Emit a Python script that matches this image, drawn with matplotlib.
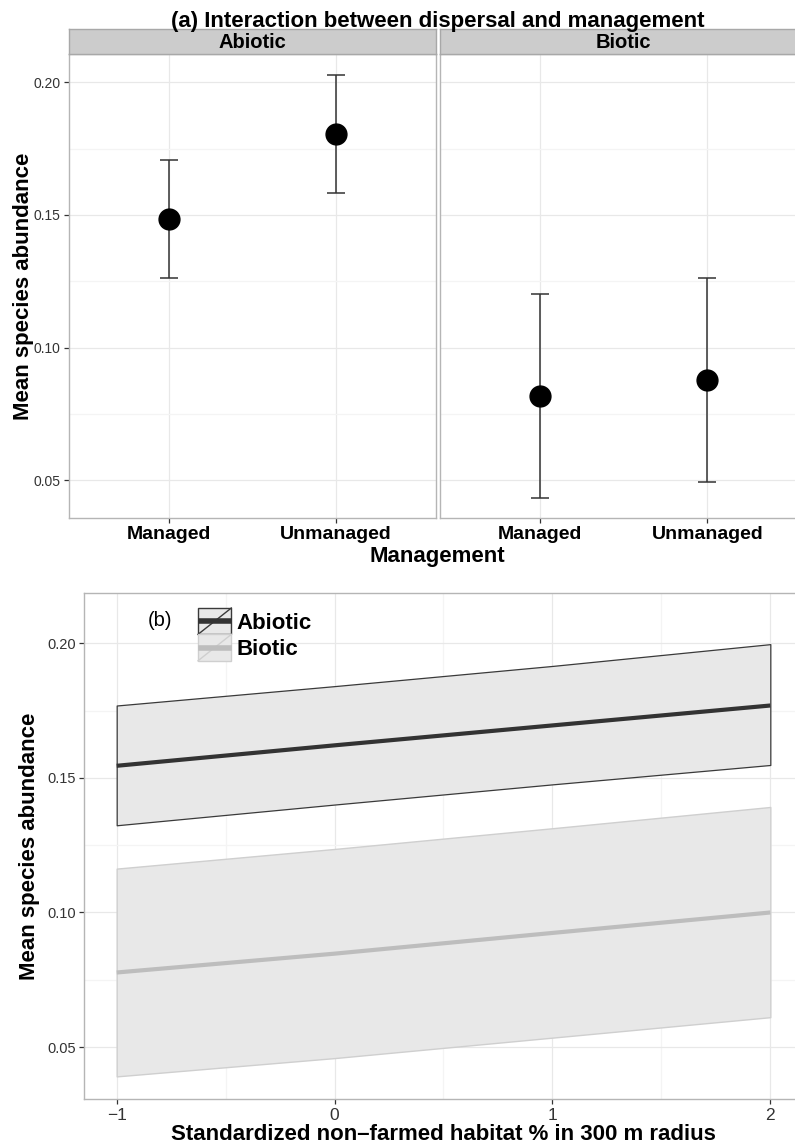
import matplotlib
matplotlib.use("Agg")
import matplotlib.pyplot as plt
from matplotlib.patches import Rectangle
from matplotlib.lines import Line2D
from matplotlib.legend_handler import HandlerBase
from matplotlib.ticker import FixedLocator

plt.rcParams['font.family'] = ['Liberation Sans', 'DejaVu Sans']

# ---- data: panel (a) ----
management = ["Managed", "Unmanaged"]
dispersal = ["Abiotic", "Biotic"]
abiotic_mean = [0.1483, 0.1804]
abiotic_low = [0.1263, 0.1581]
abiotic_high = [0.1707, 0.2028]
biotic_mean = [0.0819, 0.0878]
biotic_low = [0.0432, 0.0491]
biotic_high = [0.1201, 0.1262]

# ---- data: panel (b) ----
habitat_x = [-1, 0, 1, 2]
abiotic_fit = [0.1545, 0.1621, 0.1695, 0.1769]
abiotic_lwr = [0.1324, 0.1401, 0.1476, 0.1548]
abiotic_upr = [0.1769, 0.1841, 0.1916, 0.1997]
biotic_fit = [0.0777, 0.0847, 0.0924, 0.1000]
biotic_lwr = [0.0391, 0.0459, 0.0535, 0.0611]
biotic_upr = [0.1163, 0.1236, 0.1313, 0.1392]

W, H = 795, 1146
fig = plt.figure(figsize=(W / 100, H / 100), dpi=100)


def px_axes(x0, y0, x1, y1):
    return fig.add_axes([x0 / W, 1 - y1 / H, (x1 - x0) / W, (y1 - y0) / H])


BORDER = '#b5b5b5'
GRID_MAJ = '#e8e8e8'
GRID_MIN = '#f4f4f4'
TICKC = '#333333'


def style_panel(ax):
    for s in ax.spines.values():
        s.set_color(BORDER)
        s.set_linewidth(1.0)
    ax.set_axisbelow(True)
    ax.grid(which='major', color=GRID_MAJ, lw=0.9)
    ax.grid(which='minor', color=GRID_MIN, lw=0.9)
    ax.tick_params(which='major', length=3.6, width=0.9, color=TICKC,
                   labelcolor=TICKC, pad=2)
    ax.tick_params(which='minor', length=0)


# ---- panel (a): facets ----
ylim_a = (0.0357, 0.2107)
panels = [(68.5, 436), (440, 807.5)]
series = [(abiotic_mean, abiotic_low, abiotic_high),
          (biotic_mean, biotic_low, biotic_high)]
xpos = list(range(1, len(management) + 1))
for i, ((x0, x1), (m, lo, hi), name) in enumerate(zip(panels, series, dispersal)):
    ax = px_axes(x0, 54, x1, 518)
    style_panel(ax)
    yerr = [[mm - l for mm, l in zip(m, lo)], [h - mm for mm, h in zip(m, hi)]]
    ax.errorbar(xpos, m, yerr=yerr, fmt='none', ecolor='#333333',
                elinewidth=1.1, capsize=6.5, capthick=1.1, zorder=2)
    ax.plot(xpos, m, 'o', color='black', ms=15, zorder=3)
    ax.set_xlim(0.4, 2.6)
    ax.set_ylim(*ylim_a)
    ax.set_xticks(xpos)
    ax.set_xticklabels(management, fontsize=14, fontweight='bold', color='black')
    ax.yaxis.set_major_locator(FixedLocator([0.05, 0.10, 0.15, 0.20]))
    ax.yaxis.set_minor_locator(FixedLocator([0.075, 0.125, 0.175]))
    if i == 0:
        ax.set_yticklabels(['0.05', '0.10', '0.15', '0.20'], fontsize=10)
    else:
        ax.tick_params(axis='y', which='both', left=False, labelleft=False)
    # facet strip
    st = px_axes(x0, 29, x1, 54)
    st.set_facecolor('#cccccc')
    st.set_xticks([])
    st.set_yticks([])
    for s in st.spines.values():
        s.set_color('#a8a8a8')
        s.set_linewidth(1.0)
    st.text(0.5, 0.47, name, transform=st.transAxes, ha='center',
            va='center', fontsize=14.5, fontweight='bold')

fig.text(438 / W, 1 - 27 / H, "(a) Interaction between dispersal and management",
         ha='center', va='baseline', fontsize=16, fontweight='bold')
fig.text(437 / W, 1 - 562 / H, "Management", ha='center', va='baseline',
         fontsize=16, fontweight='bold')
fig.text(24 / W, 1 - 286 / H, "Mean species abundance", rotation=90,
         ha='center', va='center', fontsize=16, fontweight='bold')

# ---- panel (b): fitted lines with confidence ribbons ----
axb = px_axes(84, 593, 803, 1099)
style_panel(axb)
axb.fill_between(habitat_x, biotic_lwr, biotic_upr, facecolor='#e8e8e8',
                 edgecolor='#cfcfcf', lw=1.0, zorder=1)
axb.fill_between(habitat_x, abiotic_lwr, abiotic_upr, facecolor='#e8e8e8',
                 edgecolor='#3a3a3a', lw=0.9, zorder=1)
axb.plot(habitat_x, biotic_fit, color='#bdbdbd', lw=3.0, solid_capstyle='butt', zorder=2)
axb.plot(habitat_x, abiotic_fit, color='#333333', lw=3.0, solid_capstyle='butt', zorder=2)
axb.set_xlim(-1.15, 2.15)
axb.set_ylim(0.0307, 0.2187)
axb.xaxis.set_major_locator(FixedLocator([-1, 0, 1, 2]))
axb.xaxis.set_minor_locator(FixedLocator([-0.5, 0.5, 1.5]))
axb.set_xticklabels(['\u22121', '0', '1', '2'], fontsize=12.5)
axb.yaxis.set_major_locator(FixedLocator([0.05, 0.10, 0.15, 0.20]))
axb.yaxis.set_minor_locator(FixedLocator([0.075, 0.125, 0.175]))
axb.set_yticklabels(['0.05', '0.10', '0.15', '0.20'], fontsize=10.5)
axb.tick_params(axis='x', pad=3)

axb.text(160 / W, 1 - 620 / H, "(b)", transform=fig.transFigure,
         ha='center', va='center', fontsize=14.5)


class RibbonKey(HandlerBase):
    def __init__(self, edge, line):
        super().__init__()
        self.edge = edge
        self.line = line

    def create_artists(self, legend, orig_handle, xdescent, ydescent,
                       width, height, fontsize, trans):
        x0, y0 = -xdescent, -ydescent
        box = Rectangle((x0, y0), width, height, facecolor='#e8e8e8',
                        edgecolor=self.edge, lw=1.0, transform=trans)
        diag = Line2D([x0, x0 + width], [y0, y0 + height], color=self.edge,
                      lw=1.0, transform=trans)
        mid = Line2D([x0 + 2, x0 + width - 2], [y0 + height / 2] * 2,
                     color=self.line, lw=4.0, transform=trans)
        return [box, diag, mid]


h_ab = Line2D([], [], label=dispersal[0])
h_bi = Line2D([], [], label=dispersal[1])
leg = axb.legend([h_ab, h_bi], dispersal,
                 handler_map={h_ab: RibbonKey('#3a3a3a', '#333333'),
                              h_bi: RibbonKey('#cfcfcf', '#bdbdbd')},
                 loc='upper left', bbox_to_anchor=(198 / W, 1 - 608 / H),
                 bbox_transform=fig.transFigure, frameon=False,
                 prop={'weight': 'bold', 'size': 16}, borderpad=0,
                 borderaxespad=0, handlelength=1.5, handleheight=1.45,
                 handletextpad=0.25, labelspacing=0.0)

fig.text(443 / W, 1 - 1140 / H,
         "Standardized non\u2013farmed habitat % in 300 m radius",
         ha='center', va='baseline', fontsize=16, fontweight='bold')
fig.text(30 / W, 1 - 846 / H, "Mean species abundance", rotation=90,
         ha='center', va='center', fontsize=16, fontweight='bold')

fig.savefig("out.png", dpi=100, facecolor='white')
